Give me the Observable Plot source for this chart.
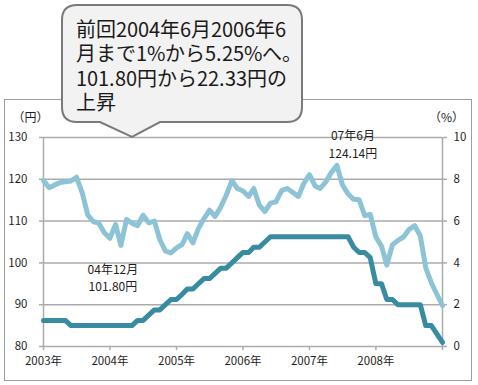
<!DOCTYPE html>
<html>
<head>
<meta charset="utf-8">
<script src="https://cdn.jsdelivr.net/npm/d3@7"></script>
<script src="https://cdn.jsdelivr.net/npm/@observablehq/plot@0.6"></script>
<style>
  @font-face {
    font-family: "BubbleJP";
    src: local("Noto Sans CJK JP"), local("Noto Sans CJK JP Regular"), local("NotoSansCJKjp-Regular");
    ascent-override: 95%;
    descent-override: 24%;
    line-gap-override: 0%;
  }
  body { margin: 0; background: #fff; }
  #wrap { position: relative; width: 478px; height: 385px; overflow: hidden; font-family: "Noto Sans CJK JP", sans-serif; }
  #border { position: absolute; left: 4px; top: 99px; width: 468px; height: 282px; border: 1px solid #9e9e9e; box-sizing: border-box; }
  #chart { position: absolute; left: 0; top: 0; }
  #bubble { position: absolute; left: 0; top: 0; }
  #bubbleText { position: absolute; left: 76px; top: 17.5px; font-size: 20px; line-height: 24.5px; color: #1a1a1a; white-space: nowrap; font-family: "BubbleJP", "Noto Sans CJK JP", sans-serif; }
</style>
</head>
<body>
<div id="wrap">
  <div id="border"></div>
  <div id="chart"></div>
  <svg id="bubble" width="478" height="150"></svg>
  <div id="bubbleText"></div>
</div>
<script>
// ---- data (monthly, Jan 2003 .. Jan 2009) ----
const yen = [
  119.7, 118.0, 118.6, 119.2, 119.4, 119.6, 120.5, 116.9, 111.5, 109.9, 109.5, 107.2,
  105.9, 109.2, 104.2, 110.4, 109.5, 108.9, 111.4, 109.6, 110.0, 105.6, 102.8, 102.4,
  103.6, 104.4, 107.0, 104.8, 108.2, 110.6, 112.6, 111.1, 113.4, 116.2, 119.7, 117.8,
  117.2, 115.9, 117.8, 113.8, 112.3, 114.3, 114.6, 117.3, 117.8, 116.9, 115.9, 119.0,
  121.1, 118.4, 117.8, 119.4, 121.6, 123.3, 118.7, 116.5, 115.2, 115.1, 111.3, 111.6,
  106.2, 104.0, 99.5, 104.3, 105.4, 106.2, 108.0, 108.9, 106.5, 98.8, 95.2, 92.5,
  89.8
];
const rate = [
  1.25, 1.25, 1.25, 1.25, 1.25, 1.0, 1.0, 1.0, 1.0, 1.0, 1.0, 1.0,
  1.0, 1.0, 1.0, 1.0, 1.0, 1.25, 1.25, 1.5, 1.75, 1.75, 2.0, 2.25,
  2.25, 2.5, 2.75, 2.75, 3.0, 3.25, 3.25, 3.5, 3.75, 3.75, 4.0, 4.25,
  4.5, 4.5, 4.75, 4.75, 5.0, 5.25, 5.25, 5.25, 5.25, 5.25, 5.25, 5.25,
  5.25, 5.25, 5.25, 5.25, 5.25, 5.25, 5.25, 5.25, 4.75, 4.5, 4.5, 4.25,
  3.0, 3.0, 2.25, 2.25, 2.0, 2.0, 2.0, 2.0, 2.0, 1.0, 1.0, 0.6,
  0.2
];
const yenTicks = [80, 90, 100, 110, 120, 130];
const rateTicks = [0, 2, 4, 6, 8, 10];
const yearLabels = ["2003年", "2004年", "2005年", "2006年", "2007年", "2008年", ""];
const yenUnit = "（円）";
const rateUnit = "（%）";
const note1 = { index: 23, text: "04年12月\n101.80円" };
const note2 = { index: 53, text: "07年6月\n124.14円" };
const bubbleLines = ["前回2004年6月2006年6", "月まで1%から5.25%へ。", "101.80円から22.33円の", "上昇"];

// ---- build ----
const start = new Date(Date.UTC(2003, 0, 1));
const end = new Date(Date.UTC(2009, 0, 1));
const months = d3.utcMonth.range(start, new Date(Date.UTC(2009, 0, 2)));
const years = d3.utcYear.range(start, new Date(Date.UTC(2009, 0, 2)));
const data = months.map((date, i) => ({ date, yen: yen[i], rate: rate[i] }));

// right axis (%) is drawn on the left (yen) scale: 0% -> 80, 10% -> 130
const yMin = yenTicks[0], yMax = yenTicks[yenTicks.length - 1];
const rMax = rateTicks[rateTicks.length - 1];
const toY = r => yMin + r * (yMax - yMin) / rMax;

const grid = "#ababab";
const light = "#8cc3d6";
const dark = "#378ca2";
const ink = "#1e1e1e";

const chart = Plot.plot({
  width: 478,
  height: 385,
  marginLeft: 43,
  marginRight: 36,
  marginTop: 137,
  marginBottom: 39,
  style: { background: "transparent", fontFamily: "'Noto Sans CJK JP', sans-serif", fontSize: "11.5px", color: ink, overflow: "visible" },
  x: { type: "utc", domain: [start, end] },
  y: { domain: [yMin, yMax] },
  marks: [
    Plot.gridY(yenTicks.slice(1), { stroke: grid, strokeOpacity: 1, strokeWidth: 1.5 }),
    Plot.ruleY([yMin], { stroke: grid, strokeWidth: 1.5 }),
    Plot.ruleX([start, end], { stroke: grid, strokeWidth: 1.5 }),
    Plot.axisY(yenTicks, { anchor: "left", tickSize: 4, tickPadding: 12, stroke: grid, strokeWidth: 1.5, fill: ink, label: null, tickFormat: d => String(d) }),
    Plot.axisY(rateTicks.map(toY), { anchor: "right", tickSize: 4, tickPadding: 7, stroke: grid, strokeWidth: 1.5, fill: ink, label: null, tickFormat: (d, i) => String(rateTicks[i]) }),
    Plot.axisX(years, { tickSize: 4, tickPadding: 6, stroke: grid, strokeWidth: 1.5, fill: ink, label: null, tickFormat: (d, i) => yearLabels[i] }),
    Plot.line(data, { x: "date", y: "yen", stroke: light, strokeWidth: 5, strokeLinejoin: "round" }),
    Plot.line(data, { x: "date", y: d => toY(d.rate), stroke: dark, strokeWidth: 5, strokeLinejoin: "round" }),
    Plot.text([note1], { x: d => months[d.index], y: d => yen[d.index], text: "text", dx: -58, dy: 24, fontSize: 12, lineHeight: 1.45, fill: ink, textAnchor: "middle", lineAnchor: "middle" }),
    Plot.text([note2], { x: d => months[d.index], y: d => yen[d.index], text: "text", dx: 16, dy: -22, fontSize: 12, lineHeight: 1.45, fill: ink, textAnchor: "middle", lineAnchor: "middle" }),
    Plot.text([yenUnit], { frameAnchor: "top-left", text: d => d, dx: -13, dy: -19, fontSize: 12, fill: ink, textAnchor: "middle", lineAnchor: "middle" }),
    Plot.text([rateUnit], { frameAnchor: "top-right", text: d => d, dx: 4, dy: -19, fontSize: 12, fill: ink, textAnchor: "middle", lineAnchor: "middle" })
  ]
});
document.getElementById("chart").appendChild(chart);

// ---- callout bubble ----
d3.select("#bubble").append("path")
  .attr("d", "M77 5 H287 Q302 5 302 20 V107 Q302 122 287 122 H160 L132 137 L100 122 H77 Q62 122 62 107 V20 Q62 5 77 5 Z")
  .attr("fill", "#f2f2f2")
  .attr("stroke", "#7a7a7a")
  .attr("stroke-width", 2);
const bt = document.getElementById("bubbleText");
bubbleLines.forEach((line, i) => {
  if (i > 0) bt.appendChild(document.createElement("br"));
  bt.appendChild(document.createTextNode(line));
});
</script>
</body>
</html>
